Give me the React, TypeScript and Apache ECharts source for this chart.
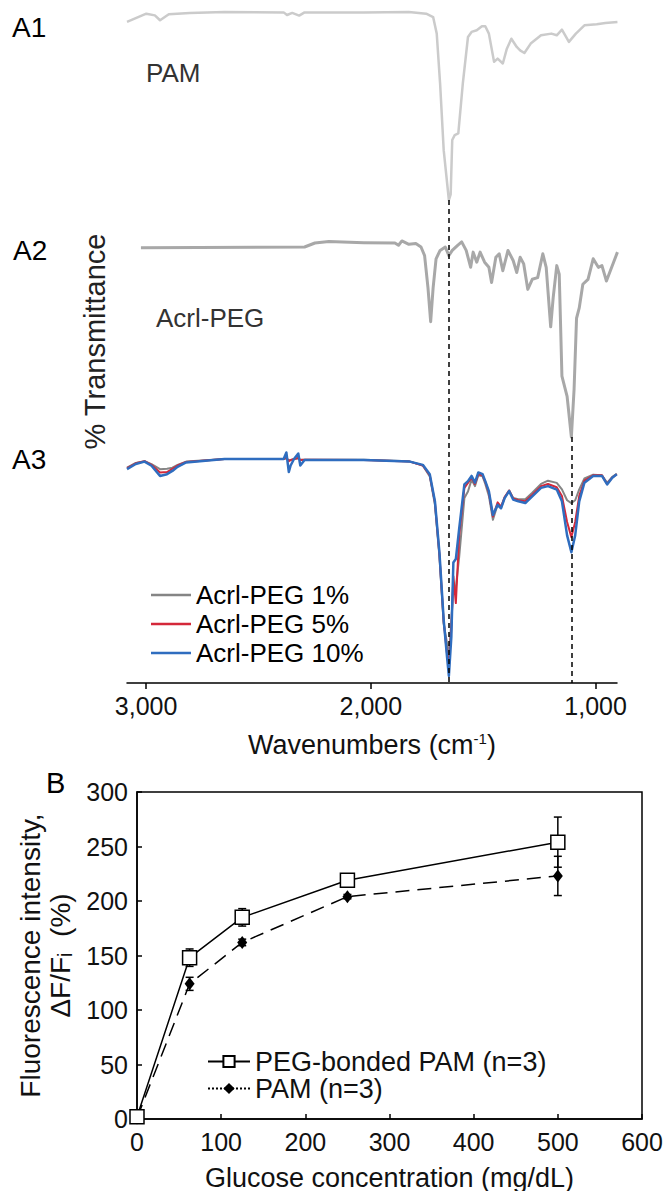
import React, { useEffect, useRef } from "react";
import * as echarts from "echarts";

const FONT = "'Liberation Sans', Arial, Helvetica, sans-serif";

// ---------- Panel A: FTIR spectra, [wavenumber (cm-1), relative transmittance (%)] ----------
const pamSpectrum: [number, number][] = [
  [3085, 94.7], [2999, 99.1], [2961, 98.2], [2938, 95.6], [2899, 98.8], [2806, 99.5], [2651, 100],
  [2388, 99.8], [2373, 98.4], [2350, 99.5], [2319, 98.1], [2295, 99.8], [2032, 99.8], [1831, 100],
  [1754, 99.1], [1723, 97.3], [1707, 88.5], [1692, 61.9], [1676, 26.5], [1653, 0], [1645, 3],
  [1638, 31.9], [1627, 34.5], [1611, 35.4], [1591, 61.9], [1568, 86.7], [1552, 89.4], [1529, 90.3],
  [1506, 92.4], [1491, 92.4], [1475, 88.5], [1452, 73.5], [1436, 75.2], [1413, 72.6], [1395, 80.5],
  [1375, 85.8], [1351, 81.4], [1336, 79.6], [1317, 78.2], [1289, 83.2], [1243, 87.6], [1197, 88.5],
  [1173, 87.6], [1150, 90.6], [1119, 84.1], [1088, 88.5], [1050, 92.9], [995, 93.5], [957, 94.2],
  [903, 94.7],
];

const acrlPegSpectrum: [number, number][] = [
  [3023, 99.6], [2295, 100], [2249, 102.1], [2187, 102.9], [2032, 102.3], [1893, 102.1], [1877, 100.9],
  [1862, 103.2], [1831, 101.4], [1800, 101.8], [1777, 100], [1761, 95.5], [1746, 78.6], [1734, 60.7],
  [1723, 78.6], [1710, 93.8], [1692, 98.2], [1669, 100], [1653, 95.5], [1638, 98.2], [1614, 100.9],
  [1596, 102.7], [1576, 98.2], [1556, 89.3], [1545, 97.3], [1529, 92.0], [1514, 97.3], [1494, 92.0],
  [1475, 89.3], [1463, 81.3], [1444, 94.6], [1429, 96.4], [1413, 87.5], [1390, 98.2], [1367, 92.9],
  [1351, 86.6], [1336, 94.6], [1320, 91.1], [1302, 77.7], [1282, 83.0], [1258, 83.9], [1235, 96.4],
  [1220, 89.3], [1200, 58.0], [1189, 73.2], [1173, 90.2], [1162, 85.7], [1150, 32.1], [1127, 21.4],
  [1108, 0], [1096, 25], [1085, 62.5], [1073, 67.9], [1057, 80.4], [1034, 83.0], [1011, 93.8],
  [988, 89.3], [972, 90.2], [952, 82.1], [903, 97.3],
];

const a3Wavenumbers = [
  3085, 3046, 3007, 2976, 2938, 2907, 2883, 2860, 2822, 2651, 2388, 2376, 2365, 2357, 2342, 2323, 2314,
  2295, 2032, 1831, 1769, 1738, 1715, 1695, 1676, 1661, 1653, 1642, 1633, 1622, 1607, 1584, 1568, 1552,
  1537, 1522, 1503, 1491, 1475, 1457, 1436, 1421, 1405, 1385, 1367, 1344, 1313, 1282, 1243, 1212, 1173,
  1150, 1127, 1108, 1091, 1073, 1050, 1011, 972, 949, 926, 906,
];
const acrlPeg1 = [
  96.0, 98.2, 99.0, 97.6, 95.3, 95.5, 96.0, 97.3, 98.8, 100, 100, 100.3, 99.4, 99.6, 100, 100.3, 99.6,
  99.7, 99.6, 99.0, 97.0, 92.0, 79.0, 55.0, 24.0, 15.0, 8.6, 25, 42, 40.6, 55, 82, 85, 90.5, 87.5, 92.5,
  92.0, 88.5, 83.0, 72.0, 79.0, 77.5, 82.0, 85.5, 82.0, 81.5, 81.5, 84.5, 88.5, 90.0, 89.0, 86.0, 81.0,
  79.7, 81.0, 86.0, 91.0, 92.8, 92.5, 89.0, 91.8, 93.2,
];
const acrlPeg5 = [
  95.8, 98.0, 99.0, 97.3, 93.8, 94.0, 95.5, 97.0, 98.6, 100, 100, 100.5, 99, 99.5, 100, 100.5, 99.5,
  99.6, 99.5, 98.9, 97.0, 92.5, 80.0, 56.0, 25.0, 10.0, 3.9, 22, 46, 33.6, 65, 86.7, 89.0, 91.5, 88.5,
  93.0, 92.5, 89.5, 84.5, 73.5, 80.0, 78.0, 82.5, 85.5, 81.8, 81.0, 80.5, 83.5, 87.5, 88.5, 87.0, 83.0,
  71.0, 64.0, 71.0, 83.0, 90.0, 92.5, 92.5, 88.5, 91.5, 93.0,
];
const acrlPeg10 = [
  95.3, 97.7, 98.8, 96.9, 92.2, 93.0, 94.5, 96.4, 98.4, 100, 100, 103, 94, 97, 100, 102.5, 97, 99.5,
  99.5, 98.9, 97.3, 93.0, 80.5, 57.0, 25.8, 8.6, 0, 18, 52.3, 53.9, 68.0, 88.3, 89.8, 92.2, 89.1, 93.8,
  93.0, 89.8, 85.2, 74.2, 78.9, 77.3, 82.0, 85.2, 81.3, 80.5, 79.7, 82.8, 86.7, 87.5, 85.9, 80.5, 64.8,
  57.0, 64.8, 80.5, 89.1, 92.2, 92.2, 88.3, 91.4, 93.0,
];
const peakWavenumbers = [1653, 1108];
const wavenumberTicks = [3000, 2000, 1000];

// ---------- Panel B: fluorescence response ----------
const glucose = [0, 62.5, 125, 250, 500];
const pegBondedPam = [2, 148, 185, 219, 254];
const pegBondedPamErr = [2, 8, 8, 3, 23];
const pamResponse = [1, 124, 162, 204, 223];
const pamResponseErr = [1, 6, 3, 2, 18];

// vertical placement of the stacked spectra (offset and height on the panel's hidden axis)
const PANEL = {
  A1: { base: 483, span: 188 },
  A2: { base: 246, span: 190 },
  A3: { base: 7, span: 217 },
};

const place = (pts: [number, number][], p: { base: number; span: number }) =>
  pts.map(([w, t]) => [w, p.base + (t / 100) * p.span]);

const zip = (ws: number[], ts: number[]): [number, number][] => ws.map((w, i) => [w, ts[i]]);

const errorRender = (params: any, api: any) => {
  const x = api.value(0);
  const y = api.value(1);
  const e = api.value(2);
  const top = api.coord([x, y + e]);
  const bot = api.coord([x, y - e]);
  const w = 4;
  const st = { stroke: "#000", lineWidth: 1.5 };
  return {
    type: "group",
    children: [
      { type: "line", shape: { x1: top[0], y1: top[1], x2: bot[0], y2: bot[1] }, style: st },
      { type: "line", shape: { x1: top[0] - w, y1: top[1], x2: top[0] + w, y2: top[1] }, style: st },
      { type: "line", shape: { x1: bot[0] - w, y1: bot[1], x2: bot[0] + w, y2: bot[1] }, style: st },
    ],
  };
};

export default function App() {
  const ref = useRef<HTMLDivElement>(null);

  useEffect(() => {
    if (!ref.current) return;
    const chart = echarts.init(ref.current, undefined, { renderer: "svg" });
    const txt = { fontFamily: FONT, color: "#111" };

    const spectrumLine = (name: string, data: number[][], color: string, width: number, extra: any = {}) => ({
      name,
      type: "line",
      xAxisIndex: 0,
      yAxisIndex: 0,
      data,
      showSymbol: false,
      symbol: "none",
      silent: true,
      lineStyle: { color, width, join: "round" },
      itemStyle: { color },
      ...extra,
    });

    const option: any = {
      animation: false,
      backgroundColor: "#fff",
      grid: [
        { left: 127, top: 0, width: 490, height: 683, outerBoundsMode: "none", containLabel: false },
        {
          left: 137, top: 792, width: 505, height: 327, show: true, borderColor: "#000", borderWidth: 1.5,
          outerBoundsMode: "none", containLabel: false,
        },
      ],
      xAxis: [
        {
          gridIndex: 0,
          type: "value",
          inverse: true,
          min: 905,
          max: 3085,
          splitLine: { show: false },
          axisLine: { lineStyle: { color: "#000", width: 1.5 } },
          axisTick: { customValues: wavenumberTicks, length: 6, inside: false, lineStyle: { color: "#000", width: 1.5 } },
          axisLabel: {
            customValues: wavenumberTicks,
            formatter: (v: number) => v.toLocaleString("en-US"),
            fontSize: 25,
            margin: 10,
            ...txt,
          },
          name: "Wavenumbers (cm{sup|-1})",
          nameLocation: "middle",
          nameGap: 48,
          nameTextStyle: {
            fontSize: 27,
            ...txt,
            rich: { sup: { fontSize: 15, fontFamily: FONT, color: "#111", verticalAlign: "top", padding: [0, 0, 12, 0] } },
          },
        },
        {
          gridIndex: 1,
          type: "value",
          min: 0,
          max: 600,
          interval: 100,
          splitLine: { show: false },
          axisLine: { lineStyle: { color: "#000", width: 1.5 } },
          axisTick: { inside: true, length: 5, lineStyle: { color: "#000", width: 1.5 } },
          axisLabel: { fontSize: 25, margin: 10, ...txt },
          name: "Glucose concentration (mg/dL)",
          nameLocation: "middle",
          nameGap: 45,
          nameTextStyle: { fontSize: 27, ...txt },
        },
      ],
      yAxis: [
        {
          gridIndex: 0,
          type: "value",
          min: 0,
          max: 683,
          axisLine: { show: false },
          axisTick: { show: false },
          axisLabel: { show: false },
          splitLine: { show: false },
          name: "% Transmittance",
          nameLocation: "middle",
          nameRotate: 90,
          nameGap: 18,
          nameTextStyle: { fontSize: 29, ...txt, color: "#222" },
        },
        {
          gridIndex: 1,
          type: "value",
          min: 0,
          max: 300,
          interval: 50,
          splitLine: { show: false },
          axisLine: { lineStyle: { color: "#000", width: 1.5 } },
          axisTick: { inside: true, length: 5, lineStyle: { color: "#000", width: 1.5 } },
          axisLabel: { fontSize: 25, margin: 9, ...txt },
          name: "Fluorescence intensity,\nΔF/Fᵢ  (%)",
          nameLocation: "middle",
          nameRotate: 90,
          nameGap: 62,
          nameTextStyle: { fontSize: 28, lineHeight: 30, ...txt },
        },
      ],
      legend: [
        {
          data: ["Acrl-PEG 1%", "Acrl-PEG 5%", "Acrl-PEG 10%"],
          orient: "vertical",
          left: 146,
          top: 576,
          icon: "rect",
          itemWidth: 40,
          itemHeight: 2.5,
          itemGap: 1,
          selectedMode: false,
          textStyle: { fontSize: 26, lineHeight: 28, ...txt, color: "#000" },
        },
        {
          data: [
            { name: "PEG-bonded PAM (n=3)" },
            { name: "PAM (n=3)", lineStyle: { type: "dotted" } },
          ],
          orient: "vertical",
          left: 202,
          top: 1043,
          itemWidth: 42,
          itemHeight: 14,
          itemGap: 0,
          selectedMode: false,
          textStyle: { fontSize: 27, lineHeight: 27, ...txt },
        },
      ],
      graphic: [
        { type: "text", x: 12, y: 27, style: { text: "A1", fontSize: 28, fontFamily: FONT, fill: "#000", verticalAlign: "middle" } },
        { type: "text", x: 13, y: 250, style: { text: "A2", fontSize: 28, fontFamily: FONT, fill: "#000", verticalAlign: "middle" } },
        { type: "text", x: 12, y: 459, style: { text: "A3", fontSize: 28, fontFamily: FONT, fill: "#000", verticalAlign: "middle" } },
        { type: "text", x: 146, y: 73, style: { text: "PAM", fontSize: 26, fontFamily: FONT, fill: "#333", verticalAlign: "middle" } },
        { type: "text", x: 156, y: 318, style: { text: "Acrl-PEG", fontSize: 26, fontFamily: FONT, fill: "#333", verticalAlign: "middle" } },
        { type: "text", x: 46, y: 783, style: { text: "B", fontSize: 29, fontFamily: FONT, fill: "#000", verticalAlign: "middle" } },
      ],
      series: [
        spectrumLine("PAM", place(pamSpectrum, PANEL.A1), "#cbcbcb", 2.5),
        spectrumLine("Acrl-PEG", place(acrlPegSpectrum, PANEL.A2), "#a8a8a8", 3),
        spectrumLine("Acrl-PEG 1%", place(zip(a3Wavenumbers, acrlPeg1), PANEL.A3), "#858585", 2),
        spectrumLine("Acrl-PEG 5%", place(zip(a3Wavenumbers, acrlPeg5), PANEL.A3), "#d4283a", 2),
        spectrumLine("Acrl-PEG 10%", place(zip(a3Wavenumbers, acrlPeg10), PANEL.A3), "#2f6dbf", 2.5, {
          markLine: {
            silent: true,
            symbol: "none",
            label: { show: false },
            lineStyle: { color: "#000", width: 1.5, type: [5, 4] },
            data: [
              [{ coord: [peakWavenumbers[0], PANEL.A1.base] }, { coord: [peakWavenumbers[0], 0] }],
              [{ coord: [peakWavenumbers[1], PANEL.A2.base] }, { coord: [peakWavenumbers[1], 0] }],
            ],
          },
        }),
        {
          name: "PEG-bonded PAM err",
          type: "custom",
          xAxisIndex: 1,
          yAxisIndex: 1,
          silent: true,
          z: 1,
          renderItem: errorRender,
          encode: { x: 0, y: 1 },
          data: glucose.map((g, i) => [g, pegBondedPam[i], pegBondedPamErr[i]]),
        },
        {
          name: "PAM err",
          type: "custom",
          xAxisIndex: 1,
          yAxisIndex: 1,
          silent: true,
          z: 1,
          renderItem: errorRender,
          encode: { x: 0, y: 1 },
          data: glucose.map((g, i) => [g, pamResponse[i], pamResponseErr[i]]),
        },
        {
          name: "PAM (n=3)",
          type: "line",
          xAxisIndex: 1,
          yAxisIndex: 1,
          z: 3,
          data: glucose.map((g, i) => [g, pamResponse[i]]),
          symbol: "diamond",
          symbolSize: [10, 13],
          itemStyle: { color: "#000" },
          lineStyle: { color: "#000", width: 1.5, type: [14, 8] },
        },
        {
          name: "PEG-bonded PAM (n=3)",
          type: "line",
          xAxisIndex: 1,
          yAxisIndex: 1,
          z: 4,
          data: glucose.map((g, i) => [g, pegBondedPam[i]]),
          symbol: "rect",
          symbolSize: 14,
          itemStyle: { color: "#fff", borderColor: "#000", borderWidth: 1.5 },
          lineStyle: { color: "#000", width: 1.5 },
        },
      ],
    };

    chart.setOption(option);
    return () => chart.dispose();
  }, []);

  return (
    <div
      ref={ref}
      style={{ position: "fixed", left: 0, top: 0, width: 666, height: 1191, background: "#fff" }}
    />
  );
}
